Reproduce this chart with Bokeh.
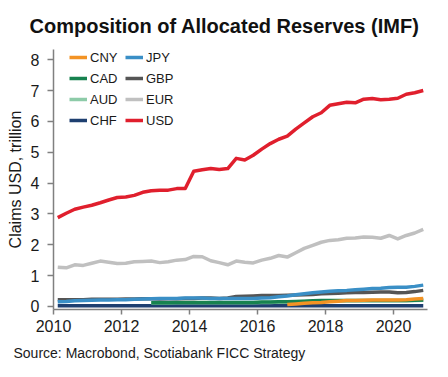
import pandas as pd
from bokeh.plotting import figure
from bokeh.models import Range1d, FixedTicker, Legend, LegendItem, Title
from bokeh.embed import file_html
from bokeh.resources import INLINE

# ---- data (USD trillion, quarterly 2010Q1..2020Q4) ----
quarters = [f"{y}Q{q}" for y in range(2010, 2021) for q in range(1, 5)]

usd = [2.88, 3.02, 3.15, 3.22,
       3.28, 3.36, 3.45, 3.53,
       3.55, 3.60, 3.70, 3.75,
       3.77, 3.77, 3.82, 3.82,
       4.38, 4.43, 4.47, 4.44,
       4.47, 4.80, 4.75, 4.90,
       5.10, 5.28, 5.42, 5.52,
       5.75, 5.95, 6.15, 6.28,
       6.52, 6.57, 6.62, 6.60,
       6.72, 6.74, 6.70, 6.72,
       6.75, 6.88, 6.93, 7.00]

eur = [1.27, 1.25, 1.35, 1.33,
       1.40, 1.47, 1.43, 1.39,
       1.40, 1.45, 1.46, 1.47,
       1.42, 1.45, 1.50, 1.52,
       1.62, 1.61, 1.48, 1.42,
       1.35, 1.47, 1.43, 1.41,
       1.50, 1.56, 1.65, 1.60,
       1.74, 1.88, 1.98, 2.08,
       2.14, 2.16, 2.21, 2.22,
       2.25, 2.24, 2.21, 2.30,
       2.19, 2.30, 2.38, 2.50]

jpy = [0.15, 0.16, 0.18, 0.19,
       0.20, 0.21, 0.21, 0.22,
       0.22, 0.23, 0.24, 0.25,
       0.26, 0.26, 0.26, 0.27,
       0.27, 0.27, 0.26, 0.26,
       0.26, 0.26, 0.26, 0.26,
       0.27, 0.28, 0.31, 0.34,
       0.38, 0.41, 0.44, 0.47,
       0.49, 0.51, 0.52, 0.54,
       0.56, 0.58, 0.59, 0.61,
       0.62, 0.62, 0.65, 0.69]

gbp = [0.22, 0.22, 0.22, 0.22,
       0.23, 0.23, 0.23, 0.23,
       0.24, 0.24, 0.25, 0.25,
       0.24, 0.25, 0.25, 0.26,
       0.26, 0.27, 0.27, 0.26,
       0.27, 0.32, 0.33, 0.34,
       0.35, 0.35, 0.35, 0.36,
       0.37, 0.38, 0.39, 0.41,
       0.42, 0.43, 0.44, 0.45,
       0.45, 0.46, 0.47, 0.47,
       0.44, 0.45, 0.48, 0.52]

nan = float("nan")
cad = [nan, nan, nan, nan,
       nan, nan, nan, nan,
       nan, nan, nan, 0.12,
       0.12, 0.12, 0.13, 0.13,
       0.13, 0.13, 0.13, 0.13,
       0.13, 0.13, 0.13, 0.13,
       0.14, 0.14, 0.15, 0.15,
       0.16, 0.17, 0.18, 0.19,
       0.19, 0.19, 0.19, 0.19,
       0.19, 0.19, 0.19, 0.19,
       0.19, 0.19, 0.20, 0.21]

aud = [nan, nan, nan, nan,
       nan, nan, nan, nan,
       nan, nan, nan, 0.11,
       0.11, 0.11, 0.12, 0.12,
       0.12, 0.12, 0.12, 0.12,
       0.12, 0.12, 0.12, 0.12,
       0.13, 0.13, 0.14, 0.14,
       0.15, 0.16, 0.17, 0.18,
       0.18, 0.18, 0.18, 0.18,
       0.18, 0.18, 0.18, 0.18,
       0.18, 0.18, 0.19, 0.20]

cny = [nan, nan, nan, nan,
       nan, nan, nan, nan,
       nan, nan, nan, nan,
       nan, nan, nan, nan,
       nan, nan, nan, nan,
       nan, nan, nan, nan,
       nan, nan, nan, 0.06,
       0.08, 0.10, 0.12, 0.13,
       0.15, 0.17, 0.19, 0.19,
       0.20, 0.21, 0.21, 0.21,
       0.21, 0.22, 0.24, 0.26]

chf = [0.02, 0.02, 0.02, 0.02,
       0.02, 0.02, 0.02, 0.02,
       0.02, 0.02, 0.02, 0.02,
       0.02, 0.02, 0.02, 0.02,
       0.02, 0.02, 0.02, 0.02,
       0.02, 0.02, 0.02, 0.02,
       0.02, 0.02, 0.02, 0.02,
       0.02, 0.02, 0.02, 0.02,
       0.02, 0.02, 0.02, 0.02,
       0.02, 0.02, 0.02, 0.02,
       0.02, 0.02, 0.02, 0.02]

x_ticks = [2010, 2012, 2014, 2016, 2018, 2020]
y_ticks = [0, 1, 2, 3, 4, 5, 6, 7, 8]

# decimal-year position of each quarter (mid-quarter)
per = pd.PeriodIndex(quarters, freq="Q")
xs = list(per.year + (per.quarter - 0.5) / 4.0)

FONT = "Liberation Sans"
TXT = "#1a1a1a"
AX = "#808080"

p = figure(width=448, height=377, output_backend="svg", toolbar_location=None,
           x_range=Range1d(2010, 2021), y_range=Range1d(-0.1, 8.33),
           min_border_left=53, min_border_right=21, min_border_top=49, min_border_bottom=68)
p.outline_line_color = None
p.xgrid.visible = False
p.ygrid.visible = False
p.background_fill_color = "white"
p.border_fill_color = "white"

p.title.text = "Composition of Allocated Reserves (IMF)"
p.title.text_font = FONT
p.title.text_font_size = "20px"
p.title.text_font_style = "bold"
p.title.text_color = "#111111"
p.title.align = "left"
p.title.offset = -24
p.title.standoff = 25

src = Title(text="Source: Macrobond, Scotiabank FICC Strategy", align="left", offset=-40,
            standoff=17,
            text_font=FONT, text_font_size="14px", text_font_style="normal", text_color=TXT)
p.add_layout(src, "below")

for ax in (p.xaxis[0], p.yaxis[0]):
    ax.axis_line_color = AX
    ax.axis_line_width = 1.5
    ax.major_tick_line_color = AX
    ax.major_tick_line_width = 1.5
    ax.minor_tick_line_color = None
    ax.major_tick_in = 0
    ax.major_label_text_font = FONT
    ax.major_label_text_font_size = "16px"
    ax.major_label_text_color = TXT

p.xaxis.ticker = FixedTicker(ticks=x_ticks)
p.xaxis.major_tick_out = 5
p.xaxis.major_label_standoff = 5
p.yaxis.ticker = FixedTicker(ticks=y_ticks)
p.yaxis.major_tick_out = 6
p.yaxis.major_label_standoff = 8
p.yaxis.axis_label = "Claims USD, trillion"
p.yaxis.axis_label_text_font = FONT
p.yaxis.axis_label_text_font_size = "16px"
p.yaxis.axis_label_text_font_style = "normal"
p.yaxis.axis_label_text_color = TXT
p.yaxis.axis_label_standoff = 4

series = {
    "CNY": (cny, "#F39324"),
    "JPY": (jpy, "#3A8FC6"),
    "CAD": (cad, "#17824F"),
    "GBP": (gbp, "#555555"),
    "AUD": (aud, "#8DCBA8"),
    "EUR": (eur, "#C0C0C0"),
    "CHF": (chf, "#1E3F70"),
    "USD": (usd, "#E01F2D"),
}
draw_order = ["CHF", "AUD", "CAD", "GBP", "JPY", "EUR", "CNY", "USD"]
rends = {}
for name in draw_order:
    vals, col = series[name]
    rends[name] = p.line(xs, vals, line_color=col, line_width=3.5, line_join="round")

def mk_legend(names, loc):
    lg = Legend(items=[LegendItem(label=n, renderers=[rends[n]]) for n in names],
                location=loc, orientation="vertical",
                border_line_color=None, background_fill_alpha=0,
                padding=0, margin=0, spacing=3,
                glyph_width=18, glyph_height=18, label_height=18, label_standoff=3,
                label_text_font=FONT, label_text_font_size="13px", label_text_color=TXT)
    return lg

p.add_layout(mk_legend(["CNY", "CAD", "AUD", "CHF"], (16, 180)))
p.add_layout(mk_legend(["JPY", "GBP", "EUR", "USD"], (72, 180)))

open("out.html", "w").write(file_html(p, INLINE))
